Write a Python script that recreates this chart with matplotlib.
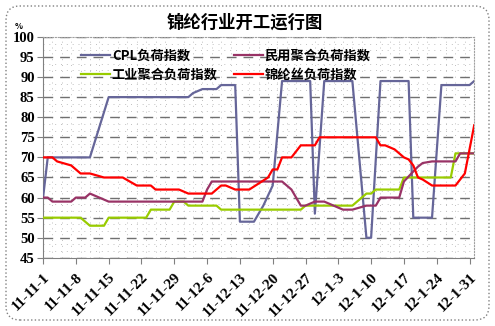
import matplotlib
matplotlib.use("Agg")
import matplotlib.pyplot as plt
import matplotlib.dates as mdates
import matplotlib.patches as mpatches
import pandas as pd

plt.rcParams['font.family'] = ['Noto Sans CJK SC', 'DejaVu Sans']

title = '锦纶行业开工运行图'

cpl_dates = ['2011-11-01', '2011-11-02', '2011-11-11', '2011-11-15', '2011-12-02', '2011-12-03',
             '2011-12-05', '2011-12-08', '2011-12-09', '2011-12-12', '2011-12-13', '2011-12-16',
             '2011-12-18', '2011-12-20', '2011-12-21', '2011-12-22', '2011-12-28', '2011-12-29',
             '2011-12-31', '2012-01-06', '2012-01-09', '2012-01-10', '2012-01-12', '2012-01-18',
             '2012-01-19', '2012-01-23', '2012-01-25', '2012-01-31', '2012-02-01']
cpl_vals = [60, 70, 70, 85, 85, 86, 87, 87, 88, 88, 54, 54, 58, 63, 76, 89, 89, 56,
            89, 89, 50, 50, 89, 89, 55, 55, 88, 88, 89]

civil_dates = ['2011-11-01', '2011-11-02', '2011-11-03', '2011-11-07', '2011-11-08', '2011-11-10',
               '2011-11-11', '2011-11-13', '2011-11-15', '2011-12-05', '2011-12-06', '2011-12-07',
               '2011-12-22', '2011-12-24', '2011-12-26', '2011-12-27', '2011-12-29', '2011-12-31',
               '2012-01-04', '2012-01-06', '2012-01-09', '2012-01-11', '2012-01-12', '2012-01-16',
               '2012-01-17', '2012-01-19', '2012-01-20', '2012-01-21', '2012-01-23', '2012-01-28',
               '2012-01-29', '2012-02-01']
civil_vals = [60, 60, 59, 59, 60, 60, 61, 60, 59, 59, 62, 64, 64, 62, 58, 58, 59, 59,
              57, 57, 58, 58, 60, 60, 64, 66.5, 67.7, 68.6, 69, 69, 71, 71]

ind_dates = ['2011-11-01', '2011-11-09', '2011-11-11', '2011-11-14', '2011-11-15', '2011-11-23',
             '2011-11-24', '2011-11-28', '2011-11-29', '2011-12-01', '2011-12-02', '2011-12-08',
             '2011-12-09', '2011-12-26', '2011-12-27', '2012-01-06', '2012-01-08', '2012-01-09',
             '2012-01-10', '2012-01-11', '2012-01-16', '2012-01-17', '2012-01-27', '2012-01-28',
             '2012-02-01']
ind_vals = [55, 55, 53, 53, 55, 55, 57, 57, 59, 59, 58, 58, 57, 57, 58, 58, 60, 61,
            61, 62, 62, 65, 65, 71, 71]

yarn_dates = ['2011-11-01', '2011-11-03', '2011-11-04', '2011-11-07', '2011-11-09', '2011-11-11',
              '2011-11-14', '2011-11-18', '2011-11-21', '2011-11-24', '2011-11-25', '2011-11-30',
              '2011-12-02', '2011-12-07', '2011-12-09', '2011-12-10', '2011-12-12', '2011-12-15',
              '2011-12-17', '2011-12-19', '2011-12-20', '2011-12-21', '2011-12-22', '2011-12-24',
              '2011-12-26', '2011-12-29', '2011-12-30', '2012-01-11', '2012-01-12', '2012-01-13',
              '2012-01-15', '2012-01-17', '2012-01-18', '2012-01-19', '2012-01-20', '2012-01-21',
              '2012-01-23', '2012-01-28', '2012-01-30', '2012-02-01']
yarn_vals = [70, 70, 69, 68, 66, 66, 65, 65, 63, 63, 62, 62, 61, 61, 63, 63, 62, 62,
             63.5, 65, 67, 67, 70, 70, 73, 73, 75, 75, 73, 73, 72, 70, 69.5, 68, 65, 64.5,
             63, 63, 66, 78]

tick_labels = ['11-11-1', '11-11-8', '11-11-15', '11-11-22', '11-11-29', '11-12-6', '11-12-13',
               '11-12-20', '11-12-27', '12-1-3', '12-1-10', '12-1-17', '12-1-24', '12-1-31']

series = [
    ('CPL负荷指数', cpl_dates, cpl_vals, '#666699'),
    ('工业聚合负荷指数', ind_dates, ind_vals, '#99cc00'),
    ('民用聚合负荷指数', civil_dates, civil_vals, '#993366'),
    ('锦纶丝负荷指数', yarn_dates, yarn_vals, '#ff0000'),
]

fig = plt.figure(figsize=(4.95, 3.26), dpi=100)
ax = fig.add_axes([0.087, 0.209, 0.871, 0.678])

for name, d, v, c in series:
    ax.plot(pd.to_datetime(d), v, color=c, lw=1.6, label=name,
            zorder=4 if c == '#ff0000' else 3)

start = pd.Timestamp('2011-11-01')
ax.set_xlim(start, pd.Timestamp('2012-02-01'))
ax.set_ylim(45, 100)
ax.set_yticks(range(45, 101, 5))
ax.set_xticks(pd.date_range(start, periods=len(tick_labels), freq='7D'))
ax.set_xticklabels(tick_labels, rotation=45, ha='right', va='top', rotation_mode='anchor',
                   family='Liberation Serif', fontweight='bold', fontsize=11)
for lab in ax.get_yticklabels():
    lab.set_family('Liberation Serif')
    lab.set_fontweight('bold')
    lab.set_fontsize(10.5)

ax.tick_params(axis='both', direction='out', length=4, color='#808080', pad=2)
ax.tick_params(axis='x', pad=5)

# dashed major lines plus the fine dotted texture of the plot area
ax.grid(axis='y', color='#707070', linestyle=(0, (7, 5)), lw=1.0, zorder=1)
ax.set_yticks([y + k * 5 / 3 for y in range(45, 100, 5) for k in (1, 2)], minor=True)
ax.xaxis.set_minor_locator(mdates.DayLocator(interval=2))
ax.grid(which='minor', color='#c0c0c0', linestyle=(0, (1, 5)), lw=0.7, zorder=0)
ax.tick_params(which='minor', length=0)

for s in ['left', 'bottom']:
    ax.spines[s].set_color('#808080')
for s in ['top', 'right']:
    ax.spines[s].set_color('#a0a0a0')
    ax.spines[s].set_linestyle(':')

ax.legend(loc='upper left', bbox_to_anchor=(0.06, 1.0), ncol=2, frameon=False,
          handlelength=2.2, columnspacing=1.2, labelspacing=0.35, handletextpad=0.15,
          prop={'family': ['Noto Sans CJK SC'], 'weight': 'bold', 'size': 9.5})

fig.text(0.495, 0.93, title, ha='center', va='center', fontsize=12.5, fontweight='bold')
fig.text(0.038, 0.918, '%', ha='center', va='center', fontsize=6, fontweight='bold')

border = mpatches.FancyBboxPatch((6, 6), 483, 314, boxstyle='round,pad=0,rounding_size=14',
                                 transform=None, fill=False, edgecolor='#808080',
                                 linestyle=':', lw=1.0)
fig.add_artist(border)

fig.savefig('out.png', dpi=100)
